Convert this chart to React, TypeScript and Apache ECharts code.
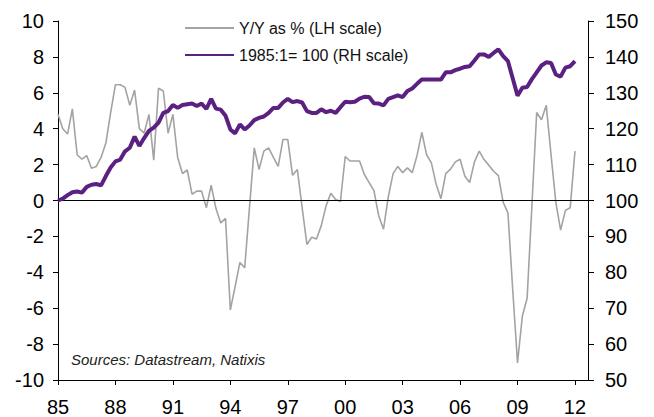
import React, { useEffect, useRef } from "react";
import * as echarts from "echarts";

// Quarterly data, 1985Q1 .. 2012Q1
const START_YEAR = 1985;
const yoyPct = [
  4.8, 4.0, 3.7, 5.1,
  2.55, 2.3, 2.5, 1.8,
  1.9, 2.4, 3.2, 4.9,
  6.45, 6.45, 6.3, 5.3,
  6.15, 4.0, 3.75, 4.8,
  2.25, 6.25, 6.1, 3.75,
  4.8, 2.4, 1.5, 1.7,
  0.35, 0.52, 0.52, -0.4,
  0.85, -0.45, -1.25, -1.0,
  -6.1, -4.8, -3.45, -3.75,
  -0.4, 2.93, 1.73, 2.75,
  2.93, 2.4, 1.9, 3.4,
  3.4, 1.4, 1.73, -0.4,
  -2.45, -2.05, -2.15, -1.4,
  -0.3, 0.4, 0.05, -0.05,
  2.45, 2.2, 2.2, 2.2,
  1.45, 1.0, 0.55, -0.85,
  -1.6, 0.2, 1.5, 1.9,
  1.55, 1.82, 1.55, 2.5,
  3.8, 2.55, 2.1, 0.9,
  0.1, 1.5, 1.75, 2.15,
  2.3, 1.35, 1.0, 2.15,
  2.75, 2.28, 1.97, 1.63,
  1.39, -0.1, -0.7, -5.0,
  -9.05, -6.45, -5.45, -0.3,
  4.9, 4.5, 5.3, 2.55,
  -0.1, -1.65, -0.55, -0.4,
  2.75,
];
const indexRH = [
  100.0, 100.5, 101.5, 102.3,
  102.5, 102.2, 103.8, 104.4,
  104.6, 104.2, 106.8, 109.2,
  110.9, 111.4, 113.7, 114.7,
  117.8, 115.2, 117.4, 119.4,
  120.3, 121.7, 124.4, 124.9,
  126.6, 125.8, 126.6, 126.8,
  127.0, 126.3, 127.0, 125.5,
  128.3, 125.6, 125.3, 123.6,
  119.8, 118.7, 121.2, 119.8,
  120.9, 122.4, 123.0, 123.4,
  124.4, 125.8, 125.8, 127.3,
  128.3, 127.4, 127.7, 127.3,
  124.9, 124.4, 124.4, 125.4,
  124.6, 125.0, 124.4, 126.0,
  127.5, 127.4, 127.5, 128.4,
  128.9, 128.8, 127.1, 127.0,
  126.5, 128.3, 128.8, 129.3,
  128.8, 130.5, 131.2, 132.5,
  133.7, 133.7, 133.7, 133.7,
  133.7, 135.7, 135.7, 136.3,
  136.7, 137.2, 137.4, 139.0,
  140.7, 140.7, 140.0, 141.1,
  142.1, 140.2, 138.8, 134.0,
  129.2, 131.4, 131.6, 133.8,
  135.7, 137.6, 138.5, 138.3,
  135.1, 134.5, 137.0, 137.4,
  138.8,
];
const seriesNames = ["Y/Y as % (LH scale)", "1985:1= 100 (RH scale)"];
const sourceText = "Sources: Datastream, Natixis";

const FONT = "'Liberation Sans', Arial, sans-serif";
const GREY = "#a3a3a3";
const PURPLE = "#5b2182";

export default function App() {
  const ref = useRef<HTMLDivElement>(null);
  useEffect(() => {
    if (!ref.current) return;
    const chart = echarts.init(ref.current, undefined, { renderer: "svg" });
    const toPts = (arr: number[]) => arr.map((v, i) => [i / 4, v]);
    chart.setOption({
      animation: false,
      textStyle: { fontFamily: FONT },
      grid: { left: 58, right: 66, top: 21, bottom: 37 },
      legend: {
        orient: "vertical",
        left: 184,
        top: 20,
        padding: 0,
        itemGap: 11,
        itemWidth: 49,
        itemHeight: 14,
        itemStyle: { opacity: 0 },
        textStyle: { fontSize: 16, color: "#111", fontFamily: FONT },
        data: seriesNames,
      },
      xAxis: {
        type: "value",
        min: 0,
        max: 27.68,
        interval: 3,
        splitLine: { show: false },
        axisLine: { onZero: false, lineStyle: { color: "#000", width: 1 } },
        axisTick: { length: 5, lineStyle: { color: "#000" } },
        axisLabel: {
          fontSize: 20,
          color: "#000",
          margin: 17,
          showMaxLabel: false,
          formatter: (v: number) =>
            Math.abs(v % 3) < 1e-6 ? String((START_YEAR + v) % 100).padStart(2, "0") : "",
        },
      },
      yAxis: [
        {
          type: "value",
          min: -10,
          max: 10,
          interval: 2,
          splitLine: { show: false },
          axisLine: { show: true, lineStyle: { color: "#000", width: 1 } },
          axisTick: { show: true, length: 5, lineStyle: { color: "#000" } },
          axisLabel: { fontSize: 20, color: "#000", margin: 14 },
        },
        {
          type: "value",
          min: 50,
          max: 150,
          interval: 10,
          position: "right",
          splitLine: { show: false },
          axisLine: { show: true, lineStyle: { color: "#000", width: 1 } },
          axisTick: { show: true, length: 6, lineStyle: { color: "#000" } },
          axisLabel: { fontSize: 20, color: "#000", margin: 17 },
        },
      ],
      series: [
        {
          name: seriesNames[0],
          type: "line",
          yAxisIndex: 0,
          data: toPts(yoyPct),
          symbol: "none",
          showSymbol: false,
          lineStyle: { color: GREY, width: 1.6 },
          itemStyle: { color: GREY },
          z: 2,
          markLine: {
            silent: true,
            symbol: "none",
            label: { show: false },
            lineStyle: { color: "#000", width: 1, type: "solid" },
            data: [{ yAxis: 0 }],
            z: 3,
          },
        },
        {
          name: seriesNames[1],
          type: "line",
          yAxisIndex: 1,
          data: toPts(indexRH),
          symbol: "none",
          showSymbol: false,
          lineStyle: { color: PURPLE, width: 4 },
          itemStyle: { color: PURPLE },
          z: 4,
        },
      ],
      graphic: [
        {
          type: "text",
          left: 71,
          top: 352,
          style: {
            text: sourceText,
            fontSize: 15,
            fontStyle: "italic",
            fontFamily: FONT,
            fill: "#222",
          },
        },
      ],
    });
    return () => chart.dispose();
  }, []);
  return (
    <div
      ref={ref}
      style={{ position: "absolute", left: 0, top: 0, width: 654, height: 417 }}
    />
  );
}
